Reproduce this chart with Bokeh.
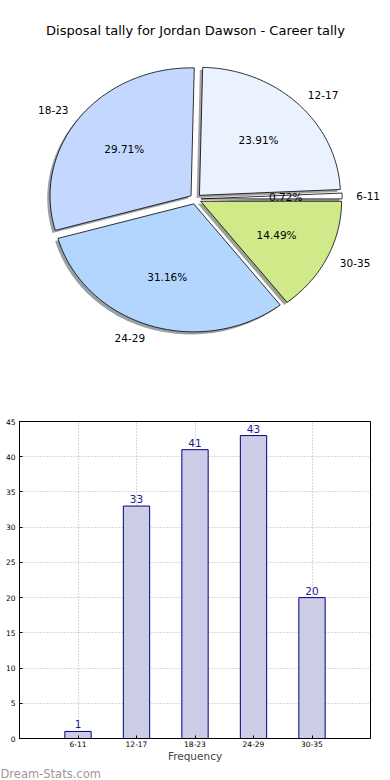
import math
from bokeh.plotting import figure
from bokeh.models import Range1d, ColumnDataSource, FixedTicker, Title
from bokeh.layouts import column, row
from bokeh.core.properties import value
from bokeh.embed import file_html
from bokeh.resources import INLINE

# ---- data ----
title = "Disposal tally for Jordan Dawson - Career tally"
categories = ["6-11", "12-17", "18-23", "24-29", "30-35"]
counts = [1, 33, 41, 43, 20]
slice_colors = ["#ffffff", "#eaf2ff", "#c4d8ff", "#b3d6ff", "#d0ea8a"]
y_ticks = [0, 5, 10, 15, 20, 25, 30, 35, 40, 45]
x_label = "Frequency"
watermark = "Dream-Stats.com"

FONT = "DejaVu Sans"
BL, BR = 19, 20

# ---- pie figure (data space = page pixels) ----
p1 = figure(width=390, height=400, x_range=Range1d(0, 390), y_range=Range1d(400, 0),
            output_backend="svg", toolbar_location=None, min_border=0)
p1.axis.visible = False
p1.grid.visible = False
p1.outline_line_color = None

cx, cy, rx, ry = 195.0, 198.5, 141.0, 128.0
explode = 0.04
sh_dx, sh_dy = -2.8, 2.6
total = sum(counts)

wx, wy, sx, sy, shade = [], [], [], [], []
lab_x, lab_y, lab_align = [], [], []
pct_x, pct_y, pct_txt = [], [], []
cum = 0
for c, col in zip(counts, slice_colors):
    t1 = 2 * math.pi * cum / total
    cum += c
    t2 = 2 * math.pi * cum / total
    mid = (t1 + t2) / 2
    ox = cx + explode * rx * math.cos(mid)
    oy = cy - explode * ry * math.sin(mid)
    n = max(4, int((t2 - t1) / (2 * math.pi) * 240))
    xs = [ox] + [ox + rx * math.cos(t1 + (t2 - t1) * i / n) for i in range(n + 1)]
    ys = [oy] + [oy - ry * math.sin(t1 + (t2 - t1) * i / n) for i in range(n + 1)]
    wx.append(xs); wy.append(ys)
    sx.append([v + sh_dx for v in xs]); sy.append([v + sh_dy for v in ys])
    r, g, b = int(col[1:3], 16), int(col[3:5], 16), int(col[5:7], 16)
    shade.append("#%02x%02x%02x" % (int(r * 0.3), int(g * 0.3), int(b * 0.3)))
    lab_x.append(ox + 1.1 * rx * math.cos(mid))
    lab_y.append(oy - 1.1 * ry * math.sin(mid))
    lab_align.append("left" if math.cos(mid) > 0 else "right")
    pct_x.append(ox + 0.6 * rx * math.cos(mid))
    pct_y.append(oy - 0.6 * ry * math.sin(mid))
    pct_txt.append("%.2f%%" % (100.0 * c / total))

p1.patches(xs=sx, ys=sy, fill_color=shade, fill_alpha=0.5, line_color=None)
p1.patches(xs=wx, ys=wy, fill_color=slice_colors, line_color="black", line_width=0.8)

lab_src = ColumnDataSource(dict(x=lab_x, y=lab_y, t=categories, a=lab_align))
p1.text(x="x", y="y", text="t", text_align="a", text_baseline="middle", source=lab_src,
        text_font=value(FONT), text_font_size="10.5px", text_color="black")
pct_src = ColumnDataSource(dict(x=pct_x, y=pct_y, t=pct_txt))
p1.text(x="x", y="y", text="t", text_align="center", text_baseline="middle", source=pct_src,
        text_font=value(FONT), text_font_size="10.5px", text_color="black")
p1.text(x=[195], y=[30], text=[title], text_align="center", text_baseline="middle",
        text_font=value(FONT), text_font_size="13px", text_color="black")

# ---- bar figure ----
xpos = [i + 1 for i in range(len(categories))]
p2 = figure(width=390, height=380, x_range=Range1d(0, len(categories) + 1), y_range=Range1d(0, 45),
            output_backend="svg", toolbar_location=None,
            min_border_left=BL, min_border_right=BR, min_border_top=21, min_border_bottom=0)
p2.vbar(x=xpos, top=counts, width=0.45, fill_color="#cccce6", line_color="#000080", line_width=1)
p2.text(x=xpos, y=counts, text=[str(c) for c in counts], text_align="center",
        text_baseline="alphabetic", y_offset=-7,
        text_font=value(FONT), text_font_size="10.5px", text_color="#1a1a8c")

p2.xaxis.ticker = FixedTicker(ticks=xpos)
p2.xaxis.major_label_overrides = {x: c for x, c in zip(xpos, categories)}
p2.yaxis.ticker = FixedTicker(ticks=y_ticks)
p2.xgrid.ticker = FixedTicker(ticks=xpos)
p2.ygrid.ticker = FixedTicker(ticks=y_ticks)
p2.grid.grid_line_color = "#b0b0b0"
p2.grid.grid_line_dash = "1 2"
p2.grid.grid_line_width = 1
for ax in (p2.xaxis[0], p2.yaxis[0]):
    ax.major_label_text_font = FONT
    ax.major_label_text_font_size = "7.5px"
    ax.major_label_text_color = "black"
    ax.major_tick_in = 3
    ax.major_tick_out = 0
    ax.minor_tick_line_color = None
    ax.axis_line_color = "black"
    ax.major_tick_line_color = "black"
p2.yaxis.major_label_standoff = 4
p2.xaxis.major_label_standoff = 2
p2.xaxis.axis_label = x_label
p2.xaxis.axis_label_text_font = FONT
p2.xaxis.axis_label_text_font_size = "10.5px"
p2.xaxis.axis_label_text_font_style = "normal"
p2.xaxis.axis_label_standoff = 0
p2.outline_line_color = "black"
p2.outline_line_width = 1
p2.outline_line_alpha = 1

p2.add_layout(Title(text=watermark, align="left", offset=-BL, standoff=0,
                    text_font=FONT, text_font_size="11.5px", text_color="#999999",
                    text_font_style="normal", text_line_height=0.85), "below")

layout = column(row(p1), row(p2), spacing=0)
open("out.html", "w").write(file_html(layout, INLINE))
